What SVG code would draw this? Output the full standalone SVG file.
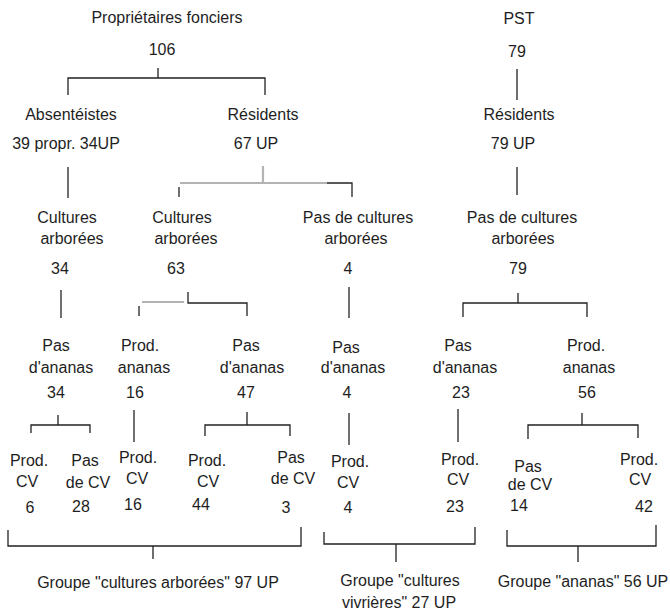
<svg xmlns="http://www.w3.org/2000/svg" width="670" height="615" viewBox="0 0 670 615">
  <style>
    text { font-family: "Liberation Sans", Arial, sans-serif; font-size: 16px; fill: #1e1e1e; text-anchor: middle; }
    .ln { fill: none; stroke: #222; stroke-width: 1.3; }
    .gr { fill: none; stroke: #b4b4b4; stroke-width: 2.2; }
  </style>
  <rect width="670" height="615" fill="#fff"/>

  <!-- connectors -->
  <g id="connectors">
    <!-- Propriétaires fonciers split -->
    <path class="ln" d="M158 68V78M68 95V78H265V95"/>
    <path class="ln" d="M68 167V198"/>
    <!-- Résidents split (faded in print) -->
    <path class="gr" d="M263 166V183M180 183H327"/>
    <path class="ln" d="M327 183H352V197"/>
    <path class="ln" stroke="#555" d="M179 187V197"/>
    <!-- PST branch -->
    <path class="ln" d="M517 69V100M517 167V195"/>
    <!-- level 3 -->
    <path class="ln" d="M61 290V318"/>
    <path class="gr" d="M142 302H184"/>
    <path class="ln" d="M188 292V303H247V316M139 306V316"/>
    <path class="ln" d="M349 287V318"/>
    <path class="ln" d="M518 293V303M463 317V303H587V317"/>
    <!-- level 4 -->
    <path class="ln" d="M58 415V425M31 433V425H90V433"/>
    <path class="ln" d="M134 410V442"/>
    <path class="ln" d="M247 412V425M205 436V425H290V436"/>
    <path class="ln" d="M349 413V445"/>
    <path class="ln" d="M458 409V442"/>
    <path class="ln" d="M582 413V425M528 439V425H638V438"/>
    <!-- group brackets -->
    <path class="ln" d="M8 530V546H301V527M153 546V559"/>
    <path class="ln" d="M324 532V544H475V527M396 544V562"/>
    <path class="ln" d="M507 530V546H656V525M578 546V562"/>
  </g>

  <!-- level 1 -->
  <g id="proprietaires"><text x="167" y="23">Propriétaires fonciers</text><text x="162" y="55">106</text></g>
  <g id="pst"><text x="519" y="24">PST</text><text x="517" y="57">79</text></g>

  <!-- level 2 -->
  <g id="absenteistes"><text x="71" y="120">Absentéistes</text><text x="66" y="149">39 propr. 34UP</text></g>
  <g id="residents-pf"><text x="263" y="120">Résidents</text><text x="256" y="149">67 UP</text></g>
  <g id="residents-pst"><text x="519" y="120">Résidents</text><text x="513" y="149">79 UP</text></g>

  <!-- level 3 -->
  <g id="arbo-abs"><text x="67" y="223">Cultures</text><text x="72" y="244">arborées</text><text x="60" y="274">34</text></g>
  <g id="arbo-res"><text x="182" y="223">Cultures</text><text x="186" y="244">arborées</text><text x="176" y="274">63</text></g>
  <g id="nonarbo-res"><text x="358" y="223">Pas de cultures</text><text x="356" y="244">arborées</text><text x="348" y="274">4</text></g>
  <g id="nonarbo-pst"><text x="522" y="223">Pas de cultures</text><text x="523" y="244">arborées</text><text x="518" y="274">79</text></g>

  <!-- level 4 -->
  <g id="pas-ananas-1"><text x="56" y="351">Pas</text><text x="61" y="373">d'ananas</text><text x="56" y="398">34</text></g>
  <g id="prod-ananas-1"><text x="140" y="351">Prod.</text><text x="144" y="373">ananas</text><text x="135" y="398">16</text></g>
  <g id="pas-ananas-2"><text x="246" y="351">Pas</text><text x="252" y="373">d'ananas</text><text x="246" y="398">47</text></g>
  <g id="pas-ananas-3"><text x="346" y="353">Pas</text><text x="353" y="373">d'ananas</text><text x="347" y="398">4</text></g>
  <g id="pas-ananas-4"><text x="458" y="351">Pas</text><text x="465" y="373">d'ananas</text><text x="461" y="398">23</text></g>
  <g id="prod-ananas-2"><text x="586" y="351">Prod.</text><text x="589" y="373">ananas</text><text x="587" y="398">56</text></g>

  <!-- level 5 -->
  <g id="cv-1"><text x="29" y="466">Prod.</text><text x="27" y="487">CV</text><text x="30" y="513">6</text></g>
  <g id="ncv-1"><text x="85" y="466">Pas</text><text x="88" y="488">de CV</text><text x="81" y="512">28</text></g>
  <g id="cv-2"><text x="138" y="463">Prod.</text><text x="137" y="484">CV</text><text x="133" y="510">16</text></g>
  <g id="cv-3"><text x="207" y="466">Prod.</text><text x="208" y="487">CV</text><text x="201" y="510">44</text></g>
  <g id="ncv-2"><text x="291" y="463">Pas</text><text x="293" y="484">de CV</text><text x="286" y="513">3</text></g>
  <g id="cv-4"><text x="350" y="467">Prod.</text><text x="348" y="488">CV</text><text x="348" y="513">4</text></g>
  <g id="cv-5"><text x="460" y="465">Prod.</text><text x="458" y="485">CV</text><text x="455" y="512">23</text></g>
  <g id="ncv-3"><text x="528" y="472">Pas</text><text x="530" y="490">de CV</text><text x="519" y="511">14</text></g>
  <g id="cv-6"><text x="639" y="465">Prod.</text><text x="640" y="485">CV</text><text x="644" y="512">42</text></g>

  <!-- groups -->
  <g id="groupe-arborees"><text x="158" y="588">Groupe "cultures arborées" 97 UP</text></g>
  <g id="groupe-vivrieres"><text x="400" y="586">Groupe "cultures</text><text x="399" y="608">vivrières" 27 UP</text></g>
  <g id="groupe-ananas"><text x="583" y="587">Groupe "ananas" 56 UP</text></g>
</svg>
